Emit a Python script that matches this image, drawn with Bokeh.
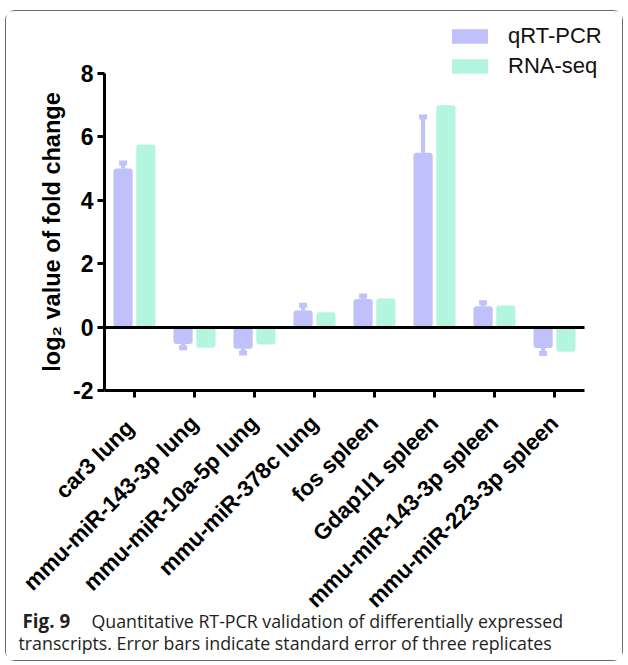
from bokeh.plotting import figure
from bokeh.models import (ColumnDataSource, Range1d, Label, LinearAxis,
                          FixedTicker, Legend, LegendItem)
from bokeh.transform import dodge
from bokeh.embed import file_html
from bokeh.resources import INLINE
from math import pi

categories = ["car3  lung", "mmu-miR-143-3p lung", "mmu-miR-10a-5p lung",
              "mmu-miR-378c lung", "fos spleen", "Gdap1l1 spleen",
              "mmu-miR-143-3p spleen", "mmu-miR-223-3p spleen"]
qrt_pcr = [5.0, -0.53, -0.68, 0.52, 0.89, 5.5, 0.66, -0.66]
qrt_se = [0.18, 0.12, 0.14, 0.17, 0.09, 1.13, 0.11, 0.17]
rna_seq = [5.76, -0.65, -0.55, 0.47, 0.90, 7.0, 0.68, -0.78]
y_ticks = [-2, 0, 2, 4, 6, 8]
series_names = ["qRT-PCR", "RNA-seq"]
caption_bold = "Fig. 9"
caption_line1 = "Quantitative RT-PCR validation of differentially expressed"
caption_line2 = "transcripts. Error bars indicate standard error of three replicates"

QRT_COLOR = "#C0C0FA"
RNA_COLOR = "#B3F5DE"

# ---- layout (pixels inside the canvas) ----
W, H = 618, 651
CH_LEFT, CH_RIGHT, CH_TOP, CH_BOTTOM = 98, 578, 62, 379
n = len(categories)
y_lo, y_hi = y_ticks[0], y_ticks[-1]
x_lo, x_hi = -0.5, n - 0.5
px_x = (CH_RIGHT - CH_LEFT) / (x_hi - x_lo)
px_y = (CH_BOTTOM - CH_TOP) / (y_hi - y_lo)

xc = list(range(n))
err_end = [v + s if v >= 0 else v - s for v, s in zip(qrt_pcr, qrt_se)]
src = ColumnDataSource(dict(xc=xc, qrt=qrt_pcr, rna=rna_seq, err=err_end))

p = figure(width=W, height=H,
           x_range=Range1d(x_lo - CH_LEFT / px_x, x_hi + (W - CH_RIGHT) / px_x),
           y_range=Range1d(y_lo - (H - CH_BOTTOM) / px_y, y_hi + CH_TOP / px_y),
           x_axis_type=None, y_axis_type=None, min_border=0,
           output_backend="svg", toolbar_location=None,
           background_fill_color="white", border_fill_color="white")
p.styles = {"margin-left": "5px", "margin-top": "10px",
            "border": "1px solid #6a6a6a", "border-radius": "10px"}
p.outline_line_color = None
p.grid.visible = False

xq = dodge("xc", -0.19)
xr = dodge("xc", 0.19)

# error bars (qRT-PCR only)
p.segment(x0=xq, y0="qrt", x1=xq, y1="err", source=src, line_color=QRT_COLOR, line_width=4)
p.rect(x=xq, y="err", width=8, height=5, width_units="screen", height_units="screen",
       source=src, fill_color=QRT_COLOR, line_color=None)

rq = p.vbar(x=xq, top="qrt", bottom=0, width=0.32, source=src,
            fill_color=QRT_COLOR, line_color=None, border_radius=3)
rr = p.vbar(x=xr, top="rna", bottom=0, width=0.32, source=src,
            fill_color=RNA_COLOR, line_color=None, border_radius=3)

# axes fixed at the chart's own coordinates
def style_axis(ax):
    ax.axis_line_width = 3
    ax.axis_line_color = "black"
    ax.major_tick_line_width = 3
    ax.major_tick_line_color = "black"
    ax.major_tick_out = 7
    ax.major_tick_in = 0
    ax.minor_tick_line_color = None
    ax.major_label_text_font = "Liberation Sans"
    ax.major_label_text_font_style = "bold"
    ax.major_label_text_color = "black"

yaxis = LinearAxis(fixed_location=x_lo, bounds=(y_lo, y_hi), ticker=FixedTicker(ticks=y_ticks),
                   major_label_overrides={t: str(t) for t in y_ticks})
style_axis(yaxis)
yaxis.major_label_text_font_size = "23px"
yaxis.major_label_standoff = 4
yaxis.axis_label = "log\u2082 value of fold change"
yaxis.axis_label_text_font = "Liberation Sans"
yaxis.axis_label_text_font_style = "bold"
yaxis.axis_label_text_font_size = "23.5px"
yaxis.axis_label_text_color = "black"
yaxis.axis_label_standoff = 5
p.add_layout(yaxis, "left")

xaxis = LinearAxis(fixed_location=y_lo, bounds=(x_lo, x_hi), ticker=FixedTicker(ticks=xc),
                   major_label_overrides={i: c for i, c in zip(xc, categories)})
style_axis(xaxis)
xaxis.major_label_text_font_size = "22.5px"
xaxis.major_label_orientation = pi / 4
xaxis.major_label_standoff = 22
p.add_layout(xaxis, "below")

zero_line = LinearAxis(fixed_location=0, bounds=(x_lo, x_hi), ticker=FixedTicker(ticks=[]))
zero_line.axis_line_width = 3
zero_line.axis_line_color = "black"
zero_line.minor_tick_line_color = None
zero_line.major_tick_line_color = None
p.add_layout(zero_line, "below")

legend = Legend(items=[LegendItem(label=series_names[0], renderers=[rq]),
                       LegendItem(label=series_names[1], renderers=[rr])],
                location=(441, 583), orientation="vertical",
                glyph_width=45, glyph_height=18, label_height=20, spacing=4,
                padding=0, margin=0, label_standoff=16,
                label_text_font="Liberation Sans", label_text_font_size="22px",
                label_text_color="#111111", label_text_baseline="middle",
                border_line_color=None, background_fill_alpha=0)
p.add_layout(legend)

# caption
cap_kw = dict(x_units="screen", y_units="screen", text_font="Open Sans",
              text_font_size="17.8px", text_color="#231f20", text_baseline="alphabetic")
p.add_layout(Label(x=16, y=42, text=caption_bold, text_font_style="bold",
                   **{**cap_kw, "text_font_size": "18.8px"}))
p.add_layout(Label(x=85, y=42, text=caption_line1, **cap_kw))
p.add_layout(Label(x=12, y=20, text=caption_line2, **cap_kw))

open("out.html", "w").write(file_html(p, INLINE))
